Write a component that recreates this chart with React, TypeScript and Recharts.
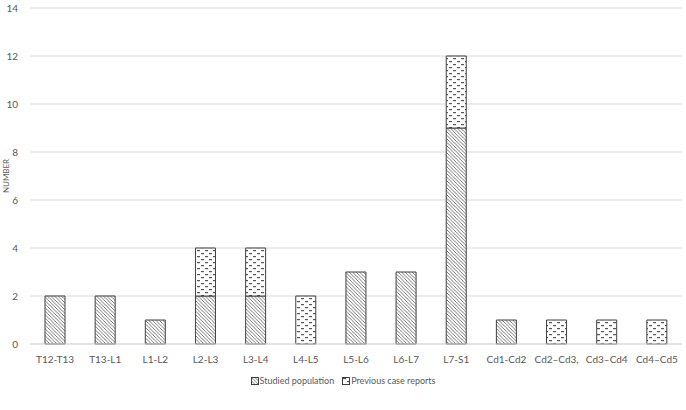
import { BarChart, Bar, XAxis, YAxis, CartesianGrid } from 'recharts'

const segments = ['T12-T13', 'T13-L1', 'L1-L2', 'L2-L3', 'L3-L4', 'L4-L5', 'L5-L6', 'L6-L7', 'L7-S1', 'Cd1-Cd2', 'Cd2–Cd3,', 'Cd3–Cd4', 'Cd4–Cd5']
const studied = [2, 2, 1, 2, 2, 0, 3, 3, 9, 1, 0, 0, 0]
const previous = [0, 0, 0, 2, 2, 2, 0, 0, 3, 0, 1, 1, 1]
const yTicks = [0, 2, 4, 6, 8, 10, 12, 14]

const data = segments.map((name, i) => ({ name, studied: studied[i], previous: previous[i] }))

const font = 'Lato, sans-serif'
const textColor = '#595959'

function Patterns() {
  return (
    <svg width={0} height={0} style={{ position: 'absolute' }}>
      <defs>
        <pattern id="diag" patternUnits="userSpaceOnUse" width={3.5} height={3.5}>
          <rect width={3.5} height={3.5} fill="#fff" />
          <path d="M-1,-1 L4.5,4.5 M-1,2.5 L1,4.5 M2.5,-1 L4.5,1" stroke="#555" strokeWidth={0.8} />
        </pattern>
        <pattern id="dash" patternUnits="userSpaceOnUse" width={8} height={6}>
          <rect width={8} height={6} fill="#fff" />
          <rect x={1} y={1} width={3} height={1.2} fill="#555" />
          <rect x={5} y={4} width={3} height={1.2} fill="#555" />
        </pattern>
      </defs>
    </svg>
  )
}

export default function App() {
  return (
    <div style={{ position: 'absolute', left: 0, top: 0, width: 686, height: 410, background: '#fff', fontFamily: font }}>
      <Patterns />
      <BarChart width={686} height={410} data={data} margin={{ top: 8, right: 4, left: 0, bottom: 42 }} barSize={20}>
        <CartesianGrid vertical={false} stroke="#d9d9d9" />
        <XAxis
          dataKey="name"
          axisLine={{ stroke: '#d9d9d9' }}
          tickLine={false}
          height={24}
          tick={{ fontSize: 10, fill: textColor, fontFamily: font }}
          tickMargin={6}
          interval={0}
        />
        <YAxis
          width={30}
          domain={[0, 14]}
          ticks={yTicks}
          axisLine={false}
          tickLine={false}
          tickSize={0}
          tickMargin={12}
          tick={{ fontSize: 10, fill: textColor, fontFamily: font }}
          label={{ value: 'NUMBER', angle: -90, position: 'insideLeft', offset: 6, style: { fontSize: 8, fill: textColor, fontFamily: font, textAnchor: 'middle' } }}
        />
        <Bar dataKey="studied" stackId="a" fill="url(#diag)" stroke="#404040" strokeWidth={1} isAnimationActive={false} />
        <Bar dataKey="previous" stackId="a" fill="url(#dash)" stroke="#404040" strokeWidth={1} isAnimationActive={false} />
      </BarChart>
      <div style={{ position: 'absolute', top: 375, left: 0, width: 686, display: 'flex', justifyContent: 'center', gap: 8, fontSize: 9, color: textColor }}>
        <span style={{ display: 'flex', alignItems: 'center' }}>
          <svg width={8} height={8} style={{ marginRight: 1 }}><rect x={0.5} y={0.5} width={7} height={7} fill="url(#diag)" stroke="#404040" /></svg>
          Studied population
        </span>
        <span style={{ display: 'flex', alignItems: 'center' }}>
          <svg width={8} height={8} style={{ marginRight: 1 }}><rect x={0.5} y={0.5} width={7} height={7} fill="url(#dash)" stroke="#404040" /></svg>
          Previous case reports
        </span>
      </div>
    </div>
  )
}
